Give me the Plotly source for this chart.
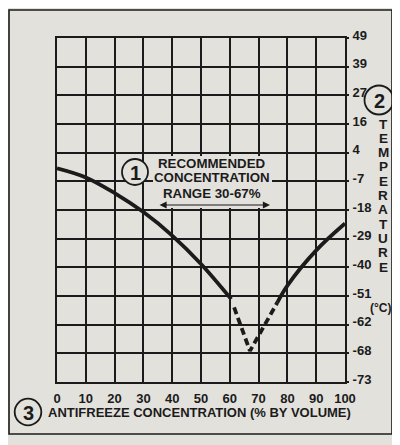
import numpy as np
import plotly.graph_objects as go

# ---------------- data ----------------
x_ticks = [0, 10, 20, 30, 40, 50, 60, 70, 80, 90, 100]
temp_ticks = [49, 39, 27, 16, 4, -7, -18, -29, -40, -51, -62, -68, -73]

conc_left = [0, 10, 20, 30, 40, 50, 60.5]
temp_left = [-2, -5.5, -11.5, -18.8, -27.8, -38.7, -52.2]

conc_dash = [61.5, 67, 76.5]
temp_dash = [-55.4, -67.5, -53.5]

conc_right = [76.5, 80, 90, 100]
temp_right = [-53.5, -47, -33.5, -23.2]

range_label = ["RECOMMENDED", "CONCENTRATION", "RANGE 30-67%"]
x_title = "ANTIFREEZE CONCENTRATION (% BY VOLUME)"
y_title_letters = list("TEMPERATURE")
y_unit = "(°C)"

# ---------------- helpers ----------------
OFF = 8                      # page body margin
W, H = 400 - OFF, 445 - OFF
L, R, T, B = 57, 345, 38, 382  # plot area in screen pixels

def px(x):
    return (x - L) / (R - L)

def py(y):
    return (B - y) / (B - T)

idx = np.arange(len(temp_ticks))

def t2i(t):
    # map temperature to the (non-linear) grid row index
    return np.interp(t, temp_ticks[::-1], idx[::-1])

INK = "#1b1b1b"
PAPER = "#e2e1dc"
FONT = "Liberation Sans, Arial, sans-serif"
NARROW = "Liberation Sans Narrow, Liberation Sans, Arial, sans-serif"

fig = go.Figure()

fig.add_trace(go.Scatter(x=conc_left, y=t2i(temp_left), mode="lines",
                         line=dict(color=INK, width=3.8, shape="spline"),
                         hoverinfo="skip", showlegend=False))
fig.add_trace(go.Scatter(x=conc_dash, y=t2i(temp_dash), mode="lines",
                         line=dict(color=INK, width=3.8, dash="7px,4px"),
                         hoverinfo="skip", showlegend=False))
fig.add_trace(go.Scatter(x=conc_right, y=t2i(temp_right), mode="lines",
                         line=dict(color=INK, width=3.8, shape="spline"),
                         hoverinfo="skip", showlegend=False))

shapes = []
# outer frame
shapes.append(dict(type="rect", xref="paper", yref="paper",
                   x0=px(9), x1=px(392), y0=py(434), y1=py(10),
                   line=dict(color=INK, width=1.6), fillcolor="rgba(0,0,0,0)"))
# background box behind the recommended-range text
shapes.append(dict(type="rect", xref="paper", yref="paper",
                   x0=px(153), x1=px(272), y0=py(208), y1=py(156),
                   line=dict(width=0), fillcolor=PAPER, layer="above"))

def circle(cx, cy, r, fill):
    return dict(type="circle", xref="paper", yref="paper",
                x0=px(cx - r), x1=px(cx + r), y0=py(cy + r), y1=py(cy - r),
                line=dict(color=INK, width=1.8), fillcolor=fill, layer="above")

shapes.append(circle(135, 172, 13, PAPER))
shapes.append(circle(379, 100, 14.5, "rgba(0,0,0,0)"))
shapes.append(circle(28, 412, 13.3, "rgba(0,0,0,0)"))

ann = []
for i, txt in enumerate(range_label):
    ann.append(dict(xref="paper", yref="paper", x=px(212), y=py(163 + 15 * i),
                    text=txt, showarrow=False, xanchor="center", yanchor="middle",
                    font=dict(family=FONT, size=13.3, color=INK, weight="bold")))
# double arrow for range
ann.append(dict(xref="paper", yref="paper", axref="pixel", ayref="pixel",
                x=px(270), y=py(205), ax=-(270 - 158), ay=0, text="",
                showarrow=True, arrowhead=2, arrowside="end+start",
                arrowsize=1.3, arrowwidth=1.1, arrowcolor=INK))
# circled numbers
for num, (cx, cy) in zip(["1", "2", "3"], [(135, 172), (379, 100), (28, 412)]):
    ann.append(dict(xref="paper", yref="paper", x=px(cx), y=py(cy + 0.5), text=num,
                    showarrow=False, xanchor="center", yanchor="middle",
                    font=dict(family=NARROW, size=20, color=INK, weight="bold")))
# vertical axis title letters
for i, ch in enumerate(y_title_letters):
    ann.append(dict(xref="paper", yref="paper", x=px(383), y=py(124 + 14.3 * i),
                    text=ch, showarrow=False, xanchor="center", yanchor="middle",
                    font=dict(family=FONT, size=13.5, color=INK, weight="bold")))
ann.append(dict(xref="paper", yref="paper", x=px(380), y=py(308), text=y_unit,
                showarrow=False, xanchor="center", yanchor="middle",
                font=dict(family=FONT, size=12, color=INK, weight="bold")))
# x axis title
ann.append(dict(xref="paper", yref="paper", x=px(46), y=py(412), text=x_title,
                showarrow=False, xanchor="left", yanchor="middle",
                font=dict(family=FONT, size=13, color=INK, weight="bold")))

fig.update_layout(
    width=W, height=H,
    margin=dict(l=L - OFF, r=400 - R, t=T - OFF, b=445 - B, pad=0),
    paper_bgcolor=PAPER, plot_bgcolor=PAPER,
    shapes=shapes, annotations=ann, showlegend=False,
    xaxis=dict(range=[0, 100], tickmode="array", tickvals=x_ticks,
               ticktext=[str(v) for v in x_ticks],
               showgrid=True, gridcolor=INK, gridwidth=2,
               showline=True, mirror=True, linecolor=INK, linewidth=2,
               zeroline=False, ticks="", ticklabelstandoff=3,
               tickfont=dict(family=FONT, size=13, color=INK, weight="bold"),
               fixedrange=True),
    yaxis=dict(range=[len(temp_ticks) - 1, 0], tickmode="array",
               tickvals=list(idx), ticktext=[str(v) for v in temp_ticks],
               side="right", showgrid=True, gridcolor=INK, gridwidth=2,
               showline=True, mirror=True, linecolor=INK, linewidth=2,
               zeroline=False, ticks="outside", ticklen=2, tickcolor=INK,
               tickwidth=2, ticklabelstandoff=1, ticklabelshift=3,
               tickfont=dict(family=FONT, size=13, color=INK, weight="bold"),
               fixedrange=True),
)

fig.write_html("out.html", config={"displayModeBar": False})
